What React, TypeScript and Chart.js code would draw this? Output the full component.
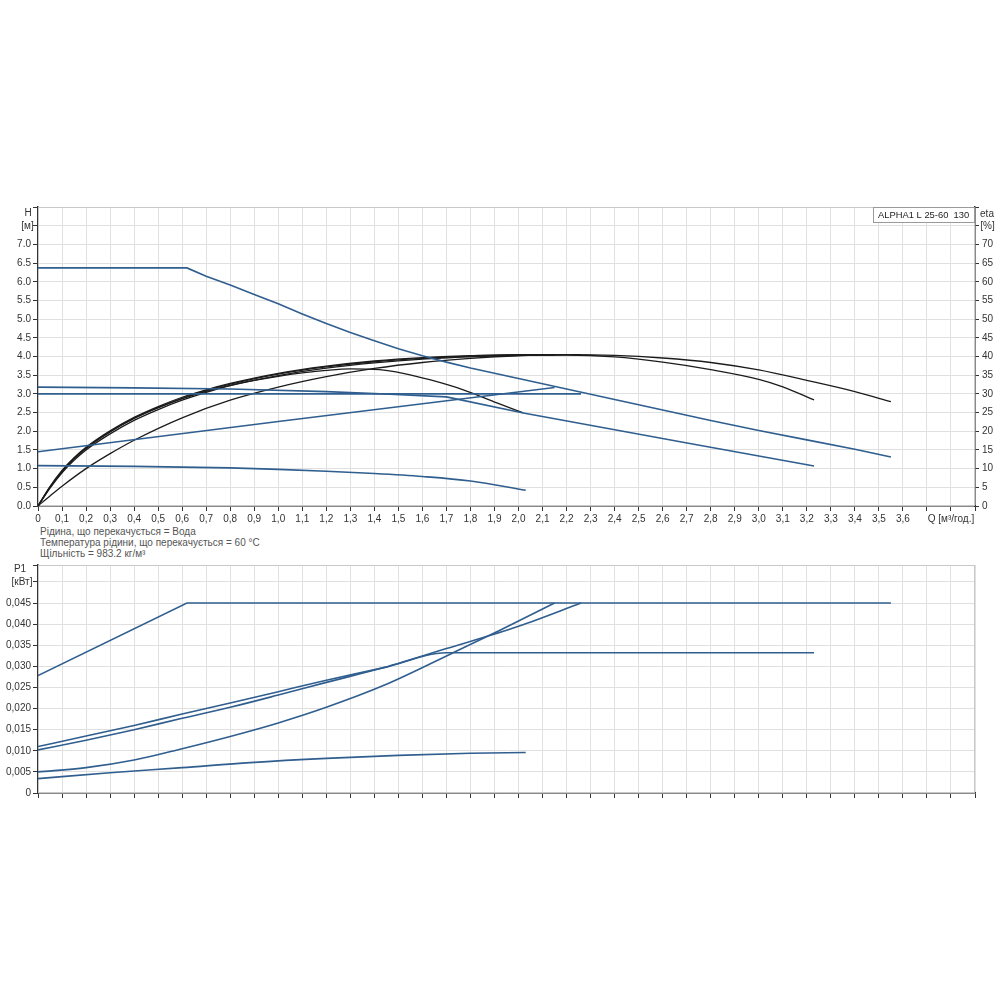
import React, { useEffect, useRef } from "react";
import { Chart, registerables } from "chart.js";
Chart.register(...registerables);

const FONT = "'Liberation Sans', Arial, sans-serif";
const BLUE = "#2f5e8f";
const BLACK = "#1c1c1c";
const GRID = "#e0e0e0";
const AXIS = "#333333";

// ---- Text ----
const legendText = "ALPHA1 L 25-60  130";
const infoLines = [
  "Рідина, що перекачується = Вода",
  "Температура рідини, що перекачується = 60 °C",
  "Щільність = 983.2 кг/м³",
];
const qAxisLabel = "Q [м³/год.]";

// ---- Head curves H [m] vs Q [m3/h] ----
const headMax = [[0, 6.37], [0.62, 6.37], [0.7, 6.15], [0.8, 5.91], [0.9, 5.66], [1.0, 5.41], [1.1, 5.14], [1.2, 4.88], [1.3, 4.64], [1.4, 4.42], [1.5, 4.21], [1.6, 4.02], [1.7, 3.85], [1.8, 3.69], [1.9, 3.55], [2.0, 3.41], [2.2, 3.13], [2.4, 2.85], [2.6, 2.57], [2.8, 2.29], [3.0, 2.02], [3.2, 1.77], [3.4, 1.52], [3.55, 1.31]];
const headII = [[0, 3.18], [0.4, 3.16], [0.8, 3.13], [1.2, 3.06], [1.4, 3.01], [1.7, 2.92], [2.02, 2.49], [2.69, 1.7], [3.23, 1.07]];
const headConst = [[0, 3.0], [2.26, 3.0]];
const headProp = [[0, 1.45], [1.0, 2.26], [2.15, 3.17]];
const headI = [[0, 1.08], [0.4, 1.06], [0.8, 1.02], [1.0, 0.98], [1.2, 0.93], [1.4, 0.87], [1.6, 0.79], [1.8, 0.67], [2.03, 0.42]];

// ---- Efficiency curves eta [%] vs Q ----
const etaMax = [[0, 0], [0.05, 5.0], [0.1, 9.2], [0.15, 12.6], [0.2, 15.4], [0.3, 19.8], [0.4, 23.4], [0.5, 26.3], [0.6, 28.8], [0.7, 30.9], [0.8, 32.6], [1.0, 35.3], [1.2, 37.2], [1.4, 38.6], [1.6, 39.5], [1.8, 40.1], [2.0, 40.4], [2.2, 40.5], [2.4, 40.3], [2.6, 39.6], [2.8, 38.4], [3.0, 36.4], [3.2, 33.6], [3.4, 30.6], [3.55, 27.9]];
const etaII = [[0, 0], [0.05, 4.8], [0.1, 8.9], [0.15, 12.2], [0.2, 15.0], [0.3, 19.3], [0.4, 22.9], [0.5, 25.8], [0.6, 28.3], [0.7, 30.4], [0.8, 32.2], [1.0, 34.9], [1.2, 36.9], [1.4, 38.3], [1.6, 39.3], [1.8, 39.9], [2.0, 40.3], [2.2, 40.4], [2.4, 39.9], [2.6, 38.5], [2.8, 36.5], [3.0, 33.9], [3.1, 31.9], [3.23, 28.4]];
const etaConst = [[0, 0], [0.05, 5.2], [0.1, 9.5], [0.15, 12.9], [0.2, 15.7], [0.3, 20.1], [0.4, 23.7], [0.5, 26.6], [0.6, 29.1], [0.7, 31.1], [0.8, 32.8], [1.0, 35.5], [1.2, 37.4], [1.4, 38.8], [1.6, 39.7], [1.8, 40.2], [2.0, 40.5], [2.26, 40.5]];
const etaI = [[0, 0], [0.05, 5.1], [0.1, 9.3], [0.15, 12.7], [0.2, 15.5], [0.3, 19.9], [0.4, 23.5], [0.5, 26.3], [0.6, 28.7], [0.7, 30.7], [0.8, 32.3], [0.9, 33.6], [1.0, 34.7], [1.1, 35.6], [1.2, 36.3], [1.3, 36.7], [1.42, 36.5], [1.52, 35.5], [1.63, 33.8], [1.77, 31.1], [1.91, 27.6], [2.02, 24.9]];
const etaProp = [[0, 0], [0.05, 2.7], [0.1, 5.3], [0.2, 10.0], [0.3, 14.0], [0.4, 17.6], [0.6, 23.6], [0.8, 28.3], [1.0, 31.8], [1.2, 34.6], [1.4, 36.8], [1.6, 38.4], [1.8, 39.5], [2.0, 40.2], [2.15, 40.4]];

// ---- Power curves P1 [kW] vs Q ----
const powerMax = [[0, 0.0278], [0.62, 0.045], [3.55, 0.045]];
const powerII = [[0, 0.011], [0.2, 0.0135], [0.4, 0.016], [0.6, 0.0187], [0.8, 0.0213], [1.0, 0.024], [1.2, 0.0267], [1.44, 0.0297], [1.7, 0.0332], [3.23, 0.0332]];
const powerConst = [[0, 0.0102], [0.2, 0.0125], [0.4, 0.015], [0.6, 0.0177], [0.8, 0.0203], [1.0, 0.0232], [1.2, 0.0262], [1.44, 0.0297], [1.7, 0.0342], [2.0, 0.0395], [2.26, 0.045]];
const powerProp = [[0, 0.005], [0.2, 0.006], [0.4, 0.0078], [0.6, 0.0105], [0.8, 0.0134], [1.0, 0.0166], [1.2, 0.0203], [1.44, 0.0255], [1.72, 0.033], [1.925, 0.0386], [2.15, 0.045]];
const powerI = [[0, 0.0034], [0.3, 0.0048], [0.6, 0.006], [0.883, 0.0072], [1.2, 0.0082], [1.5, 0.0089], [1.8, 0.0094], [2.03, 0.0096]];

const Q_MAX = 3.9;
const H_MAX = 8;
const ETA_MAX = 80;
const P_MAX = 0.054;

const toXY = (arr: number[][]) => arr.map(([x, y]) => ({ x, y }));

const tickFont = { family: FONT, size: 10 };

const framePlugin = {
  id: "frame",
  beforeDatasetsDraw(chart: any) {
    const { ctx, chartArea: a } = chart;
    ctx.save();
    ctx.strokeStyle = "#c8c8c8";
    ctx.lineWidth = 1;
    ctx.strokeRect(a.left + 0.5, a.top + 0.5, a.right - a.left - 1, a.bottom - a.top - 1);
    ctx.restore();
  },
};

function textPlugin(id: string, items: { t: string; x: number; y: number; align?: string }[], box?: boolean) {
  return {
    id,
    afterDraw(chart: any) {
      const { ctx, chartArea: a } = chart;
      ctx.save();
      if (box) {
        ctx.fillStyle = "#ffffff";
        ctx.fillRect(a.right - 102, a.top, 102, 16);
        ctx.strokeStyle = "#9a9a9a";
        ctx.lineWidth = 1;
        ctx.strokeRect(a.right - 101.5, a.top + 0.5, 101, 15);
        ctx.fillStyle = "#222";
        ctx.font = `9.4px ${FONT}`;
        ctx.textAlign = "left";
        ctx.textBaseline = "middle";
        ctx.fillText(legendText, a.right - 97, a.top + 8.5);
      }
      ctx.fillStyle = AXIS;
      ctx.font = `10px ${FONT}`;
      ctx.textBaseline = "middle";
      items.forEach((it) => {
        ctx.textAlign = (it.align as any) || "center";
        ctx.fillText(it.t, it.x, it.y);
      });
      ctx.restore();
    },
  };
}

const blueLine = (arr: number[][], yAxisID: string, smooth = false) => ({
  data: toXY(arr),
  borderColor: BLUE,
  borderWidth: 1.6,
  pointRadius: 0,
  fill: false,
  yAxisID,
  tension: 0,
  cubicInterpolationMode: smooth ? "monotone" : "default",
});
const blackLine = (arr: number[][]) => ({
  data: toXY(arr),
  borderColor: BLACK,
  borderWidth: 1.3,
  pointRadius: 0,
  fill: false,
  yAxisID: "y2",
  cubicInterpolationMode: "monotone",
});

function qLabel(v: number) {
  const k = Math.round(v * 10);
  if (k === 0) return "0";
  if (k <= 36) return (k / 10).toFixed(1).replace(".", ",");
  if (k === 38) return qAxisLabel;
  return "";
}

export default function App() {
  const topRef = useRef<HTMLCanvasElement>(null);
  const botRef = useRef<HTMLCanvasElement>(null);

  useEffect(() => {
    const top = new Chart(topRef.current as HTMLCanvasElement, {
      type: "line",
      data: {
        datasets: [
          blueLine(headMax, "y"),
          blueLine(headII, "y"),
          blueLine(headConst, "y"),
          blueLine(headProp, "y"),
          blueLine(headI, "y", true),
          blackLine(etaMax),
          blackLine(etaII),
          blackLine(etaConst),
          blackLine(etaI),
          blackLine(etaProp),
        ] as any,
      },
      options: {
        animation: false,
        responsive: false,
        maintainAspectRatio: false,
        layout: { padding: { top: 12, left: 0, right: 0, bottom: 0 } },
        plugins: { legend: { display: false }, tooltip: { enabled: false } },
        scales: {
          x: {
            type: "linear",
            min: 0,
            max: Q_MAX,
            ticks: { stepSize: 0.1, autoSkip: false, maxRotation: 0, minRotation: 0, callback: (v: any) => qLabel(Number(v)), font: tickFont, color: AXIS, padding: 2 },
            grid: { color: GRID, tickColor: AXIS, tickLength: 5 },
            border: { color: AXIS, width: 1.5 },
            afterFit: (s: any) => { s.height = 19; },
          },
          y: {
            type: "linear",
            position: "left",
            min: 0,
            max: H_MAX,
            ticks: { stepSize: 0.5, autoSkip: false, callback: (v: any) => (Number(v) >= 7.5 ? "" : Number(v).toFixed(1)), font: tickFont, color: AXIS, padding: 2 },
            grid: { color: GRID, tickColor: AXIS, tickLength: 5 },
            border: { color: AXIS, width: 1.5 },
            afterFit: (s: any) => { s.width = 38; },
          },
          y2: {
            type: "linear",
            position: "right",
            min: 0,
            max: ETA_MAX,
            ticks: { stepSize: 5, autoSkip: false, callback: (v: any) => (Number(v) >= 75 ? "" : String(Math.round(Number(v)))), font: tickFont, color: AXIS, padding: 3 },
            grid: { drawOnChartArea: false, tickColor: AXIS, tickLength: 4 },
            border: { color: AXIS, width: 1.5 },
            afterFit: (s: any) => { s.width = 25; },
          },
        },
      } as any,
      plugins: [
        framePlugin,
        textPlugin("topText", [
          { t: "H", x: 28, y: 18 },
          { t: "[м]", x: 27.5, y: 31 },
          { t: "eta", x: 987, y: 19 },
          { t: "[%]", x: 987.5, y: 31 },
        ], true),
      ] as any,
    });

    const bot = new Chart(botRef.current as HTMLCanvasElement, {
      type: "line",
      data: {
        datasets: [
          blueLine(powerMax, "y"),
          blueLine(powerII, "y", true),
          blueLine(powerConst, "y", true),
          blueLine(powerProp, "y", true),
          blueLine(powerI, "y", true),
        ] as any,
      },
      options: {
        animation: false,
        responsive: false,
        maintainAspectRatio: false,
        layout: { padding: { top: 12, left: 0, right: 25, bottom: 0 } },
        plugins: { legend: { display: false }, tooltip: { enabled: false } },
        scales: {
          x: {
            type: "linear",
            min: 0,
            max: Q_MAX,
            ticks: { stepSize: 0.1, autoSkip: false, display: false },
            grid: { color: GRID, tickColor: AXIS, tickLength: 5 },
            border: { color: AXIS, width: 1.5 },
            afterFit: (s: any) => { s.height = 8; },
          },
          y: {
            type: "linear",
            position: "left",
            min: 0,
            max: P_MAX,
            ticks: {
              stepSize: 0.005,
              autoSkip: false,
              callback: (v: any) => {
                const k = Math.round(Number(v) * 1000);
                if (k === 0) return "0";
                if (k >= 50) return "";
                return Number(v).toFixed(3).replace(".", ",");
              },
              font: tickFont,
              color: AXIS,
              padding: 2,
            },
            grid: { color: GRID, tickColor: AXIS, tickLength: 5 },
            border: { color: AXIS, width: 1.5 },
            afterFit: (s: any) => { s.width = 38; },
          },
        },
      } as any,
      plugins: [
        framePlugin,
        textPlugin("botText", [
          { t: "P1", x: 20, y: 16 },
          { t: "[кВт]", x: 22, y: 29 },
        ]),
      ] as any,
    });

    return () => {
      top.destroy();
      bot.destroy();
    };
  }, []);

  return (
    <div style={{ position: "absolute", left: 0, top: 0, width: 1000, height: 1000, background: "#fff" }}>
      <canvas ref={topRef} width={1000} height={330} style={{ position: "absolute", left: 0, top: 195, width: 1000, height: 330 }} />
      <div style={{ position: "absolute", left: 40, top: 526, fontFamily: FONT, fontSize: 10, lineHeight: "11px", color: "#555" }}>
        {infoLines.map((l, i) => (
          <div key={i}>{l}</div>
        ))}
      </div>
      <canvas ref={botRef} width={1000} height={248} style={{ position: "absolute", left: 0, top: 553, width: 1000, height: 248 }} />
    </div>
  );
}
